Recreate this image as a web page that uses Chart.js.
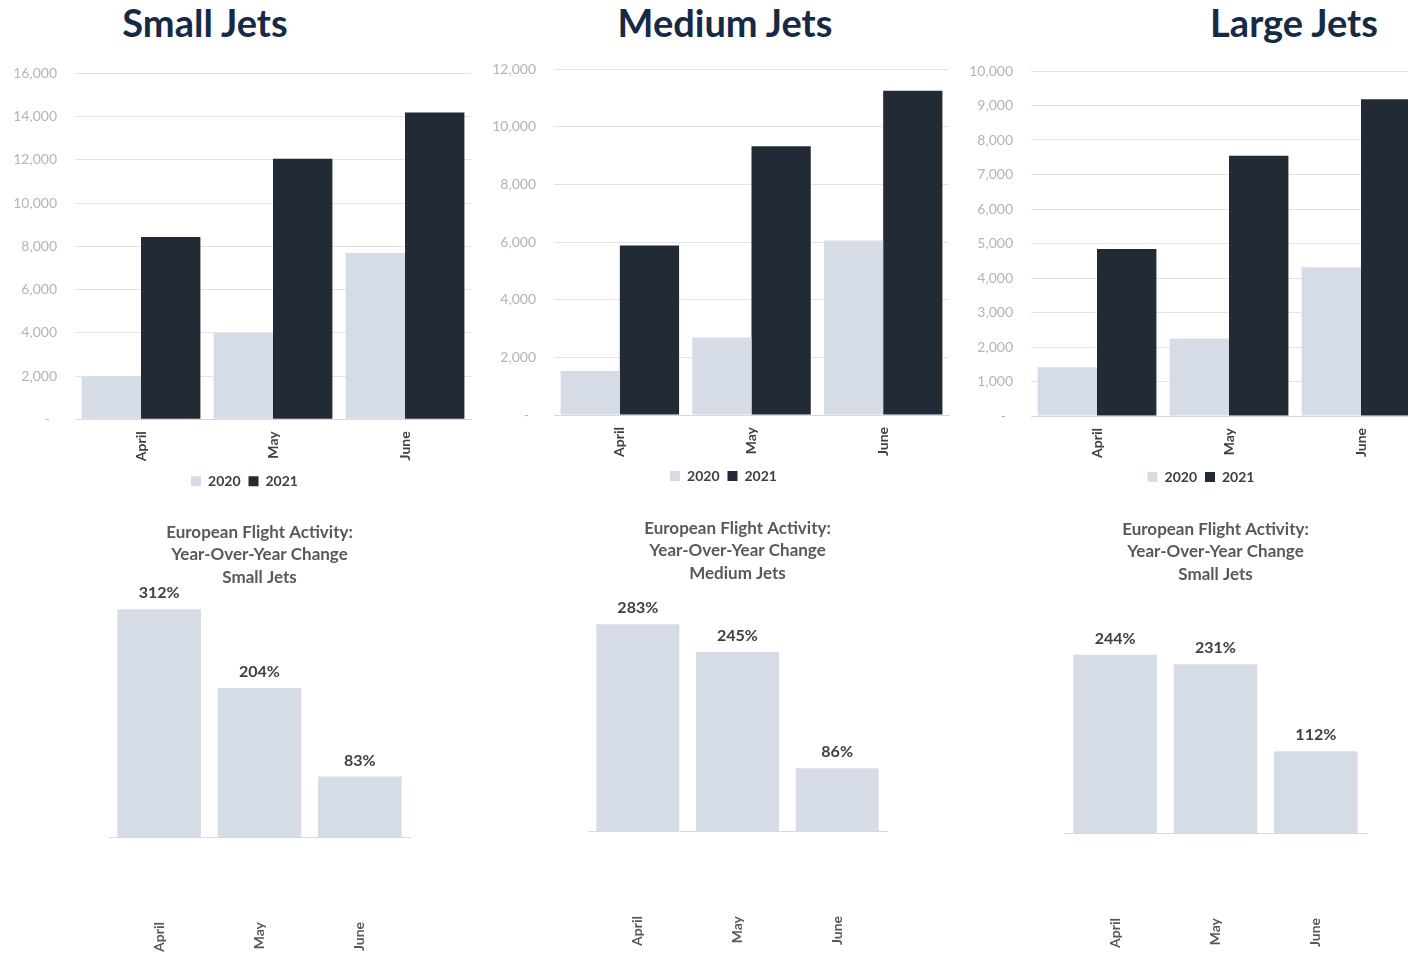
<!DOCTYPE html>
<html>
<head>
<meta charset="utf-8">
<title>European Flight Activity</title>
<script src="https://cdn.jsdelivr.net/npm/chart.js@4.4.1/dist/chart.umd.min.js"></script>
<style>
  body { margin: 0; width: 1408px; height: 953px; overflow: hidden; background: #fff; position: relative; font-family: Lato, sans-serif; }
  .box { position: absolute; }
  .jet-title { position: absolute; top: 2px; transform: translateX(-50%); font: bold 38px/40px Lato, sans-serif; color: #172a45; white-space: nowrap; }
</style>
</head>
<body>
<div class="jet-title" style="left:205px">Small Jets</div>
<div class="jet-title" style="left:725px">Medium Jets</div>
<div class="jet-title" style="left:1294px">Large Jets</div>

<div class="box" style="left:0px;top:50px;width:490px;height:450px"><canvas id="smallVolume"></canvas></div>
<div class="box" style="left:470px;top:50px;width:510px;height:450px"><canvas id="mediumVolume"></canvas></div>
<div class="box" style="left:960px;top:50px;width:470px;height:450px"><canvas id="largeVolume"></canvas></div>

<div class="box" style="left:40px;top:500px;width:440px;height:453px"><canvas id="smallChange"></canvas></div>
<div class="box" style="left:518px;top:500px;width:440px;height:453px"><canvas id="mediumChange"></canvas></div>
<div class="box" style="left:996px;top:500px;width:440px;height:453px"><canvas id="largeChange"></canvas></div>

<script>
const months = ['April', 'May', 'June'];
const years = ['2020', '2021'];

// flights per month
const small2020 = [1980, 3990, 7700];
const small2021 = [8440, 12060, 14200];
const medium2020 = [1530, 2690, 6050];
const medium2021 = [5880, 9320, 11250];
const large2020 = [1410, 2250, 4310];
const large2021 = [4840, 7540, 9180];

// y axis ticks of the volume charts
const smallTicks = { max: 16000, step: 2000 };
const mediumTicks = { max: 12000, step: 2000 };
const largeTicks = { max: 10000, step: 1000 };

// year-over-year change, %
const smallChange = [312, 204, 83];
const mediumChange = [283, 245, 86];
const largeChange = [244, 231, 112];

const changeTitleLines = ['European Flight Activity:', 'Year-Over-Year Change'];
const changeSubtitles = ['Small Jets', 'Medium Jets', 'Small Jets'];

const LIGHT = '#d6dce5';
const DARK = '#222a35';

document.addEventListener('DOMContentLoaded', () => {
    Chart.defaults.font.family = 'Lato, sans-serif';
    Chart.defaults.animation = false;

    // nudge the legend sideways so it sits where the original one does
    const legendShift = {
        id: 'legendShift',
        afterLayout(chart, args, opts) {
            const lg = chart.legend;
            if (!lg || !opts.dx) return;
            lg.left += opts.dx;
            lg.right += opts.dx;
        }
    };

    const volumeChart = (id, d2020, d2021, ticks, yWidth, xHeight, pad, dx) => {
        new Chart(document.getElementById(id), {
            type: 'bar',
            data: {
                labels: months,
                datasets: [
                    { label: years[0], data: d2020, backgroundColor: LIGHT },
                    { label: years[1], data: d2021, backgroundColor: DARK }
                ]
            },
            options: {
                responsive: true,
                maintainAspectRatio: false,
                datasets: { bar: { categoryPercentage: 0.9, barPercentage: 1.0 } },
                layout: { padding: pad },
                scales: {
                    x: {
                        grid: { display: false, drawTicks: false },
                        border: { color: '#d9d9d9', width: 1 },
                        ticks: {
                            autoSkip: false, minRotation: 90, maxRotation: 90, padding: 12,
                            color: '#404040', font: { size: 14, weight: 'bold' }
                        },
                        afterFit: (scale) => { scale.height = xHeight; }
                    },
                    y: {
                        min: 0, max: ticks.max,
                        grid: { color: '#e3e3e3', drawTicks: true, tickLength: 18, tickColor: 'rgba(0,0,0,0)' },
                        border: { display: false },
                        ticks: {
                            stepSize: ticks.step, padding: 0,
                            color: '#b4b4b4', font: { size: 14 },
                            callback: (v) => v === 0 ? '-  ' : v.toLocaleString('en-US')
                        },
                        afterFit: (scale) => { scale.width = yWidth; }
                    }
                },
                plugins: {
                    legend: {
                        position: 'bottom',
                        labels: { boxWidth: 10, boxHeight: 10, padding: 8, color: '#404040', font: { size: 14, weight: 'bold' } }
                    },
                    legendShift: { dx: dx },
                    tooltip: { enabled: false }
                }
            },
            plugins: [legendShift]
        });
    };

    // percent labels above the change bars
    const valueLabels = {
        id: 'valueLabels',
        afterDatasetsDraw(chart) {
            const { ctx } = chart;
            const values = chart.data.datasets[0].data;
            ctx.save();
            ctx.font = 'bold 16px Lato, sans-serif';
            ctx.fillStyle = '#404040';
            ctx.textAlign = 'center';
            ctx.textBaseline = 'middle';
            chart.getDatasetMeta(0).data.forEach((bar, i) => {
                ctx.fillText(values[i] + '%', bar.x, bar.y - 16);
            });
            ctx.restore();
        }
    };

    const changeChart = (id, values, subtitle, titleTop, titleBottom, xHeight, pad) => {
        new Chart(document.getElementById(id), {
            type: 'bar',
            data: {
                labels: months,
                datasets: [{ data: values, backgroundColor: LIGHT }]
            },
            options: {
                responsive: true,
                maintainAspectRatio: false,
                datasets: { bar: { categoryPercentage: 1.0, barPercentage: 0.833 } },
                layout: { padding: pad },
                scales: {
                    x: {
                        grid: { display: false, drawTicks: false },
                        border: { color: '#d9d9d9', width: 1 },
                        ticks: {
                            autoSkip: false, minRotation: 90, maxRotation: 90, padding: 85,
                            color: '#595959', font: { size: 14, weight: 'bold' }
                        },
                        afterFit: (scale) => { scale.height = xHeight; }
                    },
                    y: { display: false, min: 0, max: 320 }
                },
                plugins: {
                    legend: { display: false },
                    tooltip: { enabled: false },
                    title: {
                        display: true,
                        text: [...changeTitleLines, subtitle],
                        color: '#595959',
                        font: { size: 17, weight: 'bold', lineHeight: 1.32 },
                        padding: { top: titleTop, bottom: titleBottom }
                    }
                }
            },
            plugins: [valueLabels]
        });
    };

    volumeChart('smallVolume', small2020, small2021, smallTicks, 75, 47, { top: 23.5, right: 19, bottom: 1.7, left: 0 }, 9);
    volumeChart('mediumVolume', medium2020, medium2021, mediumTicks, 84, 46, { top: 19, right: 31, bottom: 7, left: 0 }, 14);
    volumeChart('largeVolume', large2020, large2021, largeTicks, 71, 46, { top: 21, right: 3, bottom: 6, left: 0 }, 7.5);

    changeChart('smallChange', smallChange, changeSubtitles[0], 21, 15, 116, { left: 69, right: 70 });
    changeChart('mediumChange', mediumChange, changeSubtitles[1], 17, 13, 122, { left: 70, right: 71 });
    changeChart('largeChange', largeChange, changeSubtitles[2], 18, 14, 120, { left: 69, right: 70 });
});
</script>
</body>
</html>
